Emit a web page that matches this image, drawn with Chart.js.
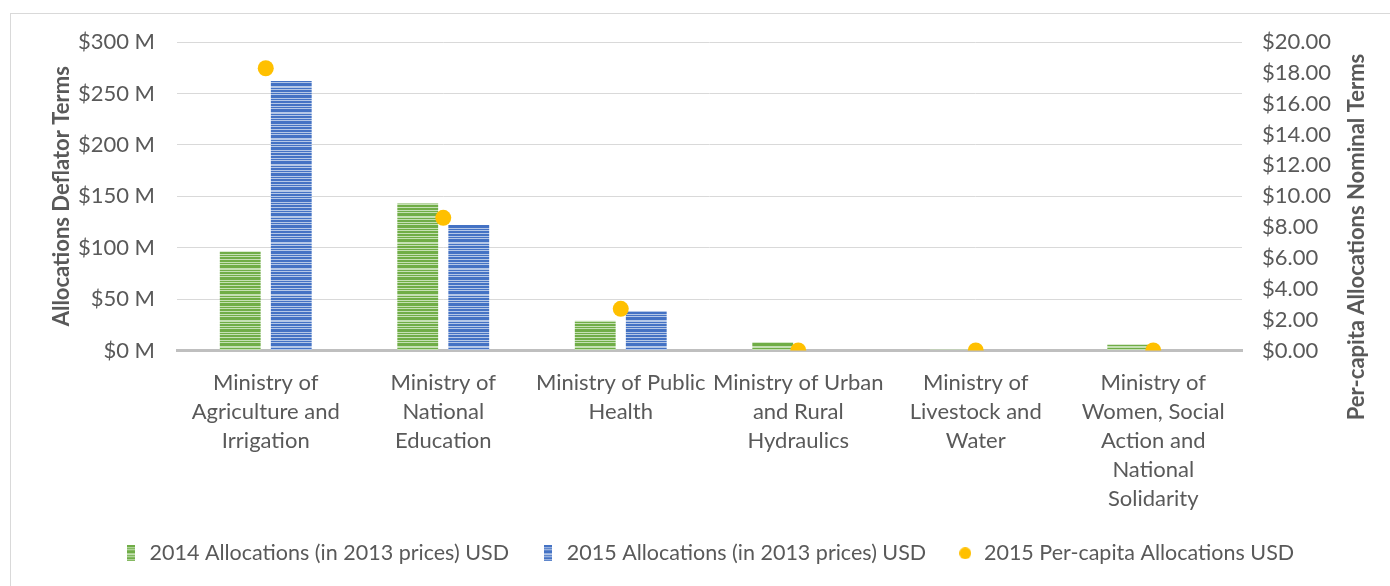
<!DOCTYPE html>
<html>
<head>
<meta charset="utf-8">
<script src="https://cdn.jsdelivr.net/npm/chart.js@4"></script>
<style>
  body { margin: 0; background: #fff; }
  #wrap { position: relative; width: 1390px; height: 586px; }
  #frame { position: absolute; left: 10px; top: 13px; width: 1400px; height: 600px; border: 1px solid #d9d9d9; }
  canvas { position: absolute; left: 0; top: 0; }
</style>
</head>
<body>
<div id="wrap">
  <div id="frame"></div>
  <canvas id="myChart" width="1390" height="586"></canvas>
</div>
<script>
// ministries on the x axis (wrapped the same way as the original)
let ministries = [
    ["Ministry of", "Agriculture and", "Irrigation"],
    ["Ministry of", "National", "Education"],
    ["Ministry of Public", "Health"],
    ["Ministry of Urban", "and Rural", "Hydraulics"],
    ["Ministry of", "Livestock and", "Water"],
    ["Ministry of", "Women, Social", "Action and", "National", "Solidarity"]
];
// millions of USD
let alloc2014 = [96, 143, 29, 8, 1, 5.5];
let alloc2015 = [262, 122, 38.5, 0.6, 0.5, 0];
// USD per capita
let perCapita2015 = [18.3, 8.6, 2.7, 0, 0, 0];

let leftTicks = [0, 50, 100, 150, 200, 250, 300];
let rightTicks = [0, 2, 4, 6, 8, 10, 12, 14, 16, 18, 20];

// striped fill like the excel texture
function stripes(dark, light){
    let c = document.createElement("canvas");
    c.width = 4; c.height = 26;
    let g = c.getContext("2d");
    g.fillStyle = light;
    g.fillRect(0, 0, 4, 26);
    g.fillStyle = dark;
    let rows = [[0,2],[3,1],[5,3],[10,1],[12,2],[15,1],[17,3],[21,1],[23,2]];
    rows.forEach(function(r){ g.fillRect(0, r[0], 4, r[1]); });
    return g.createPattern(c, "repeat");
}

function legendBox(dark, light){
    let c = document.createElement("canvas");
    c.width = 8; c.height = 16;
    let g = c.getContext("2d");
    g.fillStyle = light;
    g.fillRect(0, 0, 8, 16);
    g.fillStyle = dark;
    [[0,2],[3,1],[5,3],[10,1],[12,2],[15,1]].forEach(function(r){ g.fillRect(0, r[0], 8, r[1]); });
    return c;
}

function legendDot(color){
    let c = document.createElement("canvas");
    c.width = 12; c.height = 12;
    let g = c.getContext("2d");
    g.fillStyle = color;
    g.beginPath();
    g.arc(6, 6, 6, 0, Math.PI * 2);
    g.fill();
    return c;
}

let grey = "#595959";
let font = "Lato, 'Open Sans', sans-serif";

// right axis title reads bottom-to-top in the original
let rightTitle = {
    id: "rightTitle",
    afterLayout: function(chart){
        // let the long last category label run below the axis box without being clipped
        chart.scales.x.bottom += 30;
    },
    afterDraw: function(chart){
        let c = chart.ctx;
        c.save();
        c.translate(1357, 237);
        c.rotate(-Math.PI / 2);
        c.fillStyle = grey;
        c.font = "bold 22px " + font;
        c.textAlign = "center";
        c.textBaseline = "middle";
        c.fillText("Per-capita Allocations Nominal Terms", 0, 0);
        c.restore();
    }
};

let ctx = document.getElementById("myChart").getContext("2d");
let myChart = new Chart(ctx, {
    data: {
        labels: ministries,
        datasets: [
            {
                type: "bar",
                label: "2014 Allocations (in 2013 prices) USD",
                data: alloc2014,
                backgroundColor: stripes("#70AD47", "#C5E0B4"),
                pointStyle: legendBox("#70AD47", "#C5E0B4"),
                yAxisID: "y",
                order: 1,
                categoryPercentage: 0.575,
                barPercentage: 0.8
            },
            {
                type: "bar",
                label: "2015 Allocations (in 2013 prices) USD",
                data: alloc2015,
                backgroundColor: stripes("#4472C4", "#B4C7E7"),
                pointStyle: legendBox("#4472C4", "#B4C7E7"),
                yAxisID: "y",
                order: 1,
                categoryPercentage: 0.575,
                barPercentage: 0.8
            },
            {
                type: "line",
                label: "2015 Per-capita Allocations USD",
                data: perCapita2015,
                showLine: false,
                pointRadius: 8,
                pointHoverRadius: 8,
                pointStyle: "circle",
                backgroundColor: "#FFC000",
                borderColor: "#FFC000",
                borderWidth: 0,
                yAxisID: "y1",
                order: 0
            }
        ]
    },
    plugins: [rightTitle],
    options: {
        responsive: false,
        animation: false,
        layout: { padding: { left: 49, right: 22, top: 42, bottom: 12 } },
        plugins: {
            tooltip: { enabled: false },
            legend: {
                position: "bottom",
                labels: {
                    usePointStyle: true,
                    boxWidth: 16,
                    padding: 31,
                    color: grey,
                    font: { family: font, size: 21.5 },
                    sort: function(a, b){ return a.datasetIndex - b.datasetIndex; },
                    generateLabels: function(chart){
                        let items = Chart.defaults.plugins.legend.labels.generateLabels(chart);
                        items.forEach(function(it){
                            if (it.datasetIndex === 2) it.pointStyle = legendDot("#FFC000");
                        });
                        return items;
                    }
                }
            }
        },
        scales: {
            x: {
                grid: { display: false },
                border: { display: true, color: "#bfbfbf", width: 3 },
                ticks: {
                    color: grey,
                    padding: 10,
                    maxRotation: 0,
                    autoSkip: false,
                    font: { family: font, size: 22, lineHeight: 1.32 }
                },
                afterFit: function(scale){ scale.height = 161; }
            },
            y: {
                position: "left",
                min: 0,
                max: 300,
                afterBuildTicks: function(scale){
                    scale.ticks = leftTicks.map(function(v){ return { value: v }; });
                },
                ticks: {
                    color: grey,
                    padding: 22,
                    font: { family: font, size: 22 },
                    callback: function(v){ return "$" + v + " M"; }
                },
                grid: { color: "#d9d9d9", drawTicks: false },
                border: { display: false },
                title: {
                    display: true,
                    text: "Allocations Deflator Terms",
                    color: grey,
                    padding: 0,
                    font: { family: font, size: 22, weight: "bold" }
                },
                afterFit: function(scale){ scale.width = 128; }
            },
            y1: {
                position: "right",
                min: 0,
                max: 20,
                afterBuildTicks: function(scale){
                    scale.ticks = rightTicks.map(function(v){ return { value: v }; });
                },
                ticks: {
                    color: grey,
                    padding: 20,
                    font: { family: font, size: 22 },
                    callback: function(v){ return "$" + v.toFixed(2); }
                },
                grid: { display: false, drawTicks: false },
                border: { display: false },
                title: { display: false },
                afterFit: function(scale){ scale.width = 126; }
            }
        }
    }
});
</script>
</body>
</html>
